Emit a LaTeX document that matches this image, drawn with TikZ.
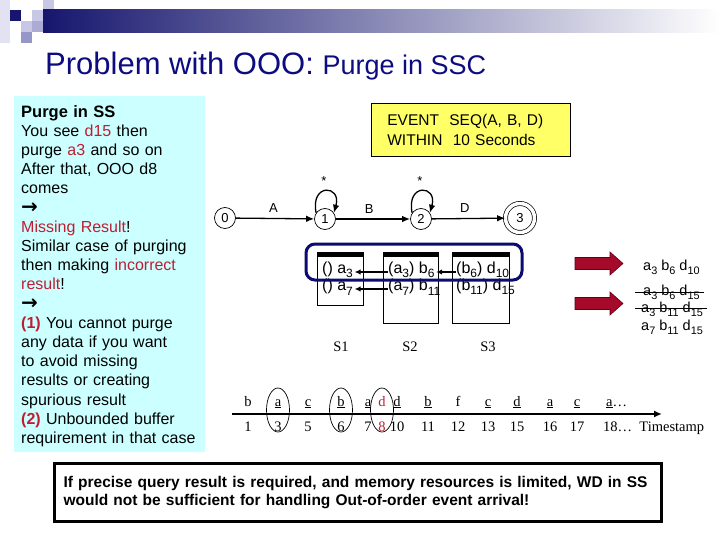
\documentclass[tikz,border=0pt]{standalone}
\usepackage{fontspec}
\setmainfont{Liberation Sans}
\newfontfamily\tms{Liberation Serif}
\newfontfamily\djv{DejaVu Sans}
\usetikzlibrary{arrows.meta,positioning}

\definecolor{titleblue}{RGB}{12,12,128}
\definecolor{hdnavy}{RGB}{22,22,110}
\definecolor{hdpale}{RGB}{226,226,242}
\definecolor{hdlight}{RGB}{200,200,230}
\definecolor{hdmid}{RGB}{150,150,200}
\definecolor{notebg}{RGB}{204,255,255}
\definecolor{notered}{RGB}{190,30,50}
\definecolor{querybg}{RGB}{255,255,102}
\definecolor{winblue}{RGB}{12,12,112}
\definecolor{arrowred}{RGB}{165,10,42}
\definecolor{arrowdark}{RGB}{95,0,20}

\newcommand{\hl}[1]{\textcolor{notered}{#1}}
\newcommand{\lowsub}[1]{\raisebox{-.28em}{\scalebox{0.75}{#1}}}
\newcommand{\thenarrow}{\smash{\djv\bfseries\scalebox{1.25}{→}}}

\tikzset{
  state/.style={circle,draw,line width=0.7pt,minimum size=21pt,inner sep=0pt,font=\fontsize{13}{13}\selectfont},
  accept/.style={state,minimum size=29pt,double,double distance=3.5pt},
  lbl/.style={font=\fontsize{13}{13}\selectfont,inner sep=1pt},
  trans/.style={line width=1.3pt,-{Latex[length=8pt,width=6.5pt]}},
  stackbox/.style={draw,line width=0.7pt,anchor=north west,inner sep=0pt},
  entry/.style={anchor=west,inner sep=0pt,font=\fontsize{16}{16}\selectfont},
  ptr/.style={line width=1.4pt,-{Latex[length=6pt,width=5.5pt]},shorten >=1.5pt},
  tlabel/.style={font=\tms\fontsize{14.5}{14.5}\selectfont,inner sep=0pt,anchor=base},
  res/.style={font=\fontsize{14.5}{14.5}\selectfont,inner sep=0pt,anchor=base west},
}

\begin{document}
\begin{tikzpicture}[x=1pt,y=-1pt]
  \useasboundingbox (0,0) rectangle (720,540);
  \fill[white] (0,0) rectangle (720,540);

  % header bar
  \fill[hdpale] (0,0) rectangle (10,43);
  \fill[hdnavy] (10,10) rectangle (21,21);
  \fill[hdlight] (21,21) rectangle (32,32);
  \fill[hdmid] (21,32) rectangle (32,43);
  \fill[hdlight] (32,10) rectangle (43,21);
  \fill[hdmid!80] (32,21) rectangle (43,32);
  \fill[hdlight] (43,0) rectangle (54,10);
  \shade[left color=hdnavy,right color=white] (43,10) rectangle (720,33);
  \node[anchor=base west,inner sep=0pt,text=titleblue,font=\fontsize{31}{31}\selectfont] (title) at (45,75)
    {Problem with OOO: {\fontsize{27}{27}\selectfont Purge in SSC}};

  % notes
  \fill[notebg] (14,96) rectangle (205,452);
  \node[anchor=north west,inner sep=0pt,text width=184pt,align=left,font=\fontsize{16}{19.2}\selectfont] (notes) at (21,105) {%
    {\fontsize{16.5}{16.5}\selectfont\textbf{Purge in SS}}\\
    You see \hl{d15} then\\
    purge \hl{a3} and so on\\
    After that, OOO d8\\
    comes\\
    \thenarrow\\
    \hl{Missing Result}!\\
    Similar case of purging\\
    then making \hl{incorrect}\\
    \hl{result}!\\
    \thenarrow\\
    \hl{\textbf{(1)}} You cannot purge\\
    any data if you want\\
    to avoid missing\\
    results or creating\\
    spurious result\\
    \hl{\textbf{(2)}} Unbounded buffer\\
    requirement in that case};

  % query
  \node[draw,fill=querybg,line width=0.7pt,anchor=north west,text width=167pt,inner xsep=16pt,minimum height=53pt,align=left,font=\fontsize{15.5}{20}\selectfont] (query) at (371,103)
    {EVENT\ \ SEQ(A, B, D)\\WITHIN\ \ 10 Seconds};

  % automaton
  \node[state] (s0) at (225,218) {0};
  \node[state] (s1) at (325,219) {1};
  \node[state] (s2) at (421,219) {2};
  \node[accept] (s3) at (520,218) {3};
  \draw[trans] (s0) -- node[lbl,above=4pt,pos=0.48] {A} (s1);
  \draw[trans] (s1) -- node[lbl,above=4pt,pos=0.45] {B} (s2);
  \draw[trans] (s2) -- node[lbl,above=4pt,pos=0.45] {D} (s3);
  \draw[trans] (s1.145) .. controls +(-6,-30) and +(8,-28) .. (s1.35);
  \draw[trans] (s2.145) .. controls +(-6,-30) and +(8,-28) .. (s2.35);
  \node[lbl] (star1) at (324,181) {*};
  \node[lbl] (star2) at (420,181) {*};

  % stacks
  \node[stackbox,minimum width=46pt,minimum height=53pt] (st1) at (317,252) {};
  \node[stackbox,minimum width=55pt,minimum height=71pt] (st2) at (383,252) {};
  \node[stackbox,minimum width=57pt,minimum height=71pt] (st3) at (452,252) {};
  \foreach \s in {st1,st2,st3} {
    \fill (\s.north west) rectangle ([yshift=-5pt]\s.north east);
  }
  \node[entry] (e11) at (322,270) {() a\lowsub{3}};
  \node[entry] (e12) at (322,287) {() a\lowsub{7}};
  \node[entry] (e21) at (388,270) {(a\lowsub{3}) b\lowsub{6}};
  \node[entry] (e22) at (388,287) {(a\lowsub{7}) b\lowsub{11}};
  \node[entry] (e31) at (456,270) {(b\lowsub{6}) d\lowsub{10}};
  \node[entry] (e32) at (456,287) {(b\lowsub{11}) d\lowsub{15}};
  \draw[ptr] ([yshift=-2pt]e21.west) -- ([yshift=-2pt]e11.east);
  \draw[ptr] ([yshift=-2pt]e22.west) -- ([yshift=-2pt]e12.east);
  \draw[ptr] ([yshift=-2pt]e31.west) -- ([yshift=-2pt]e21.east);
  \node[tlabel,anchor=center] (lS1) at (341,347) {S1};
  \node[tlabel,anchor=center] (lS2) at (410,347) {S2};
  \node[tlabel,anchor=center] (lS3) at (488,347) {S3};
  \draw[line width=3pt,winblue,rounded corners=9pt] (306,244) rectangle (522,280);

  % results
  \foreach \y in {263.5,303.5} {
    \filldraw[fill=arrowred,draw=arrowdark,line width=0.6pt]
      (575,\y-6) -- (610,\y-6) -- (610,\y-11.5) -- (623,\y) -- (610,\y+11.5) -- (610,\y+6) -- (575,\y+6) -- cycle;
  }
  \node[res] (r1) at (643,270) {a\lowsub{3} b\lowsub{6} d\lowsub{10}};
  \node[res] (r2) at (643,295) {a\lowsub{3} b\lowsub{6} d\lowsub{15}};
  \node[res] (r3) at (641,312) {a\lowsub{3} b\lowsub{11} d\lowsub{15}};
  \node[res] (r4) at (641,330) {a\lowsub{7} b\lowsub{11} d\lowsub{15}};
  \draw[line width=0.8pt] ([shift={(-8,-3)}]r2.base west) -- ([shift={(4,-3)}]r2.base east);
  \draw[line width=0.8pt] ([shift={(-6,-4)}]r3.base west) -- ([shift={(4,-4)}]r3.base east);

  % timeline
  \coordinate (t0) at (232,414);
  \coordinate (t1) at (662,414);
  \draw[line width=1.8pt,-{Latex[length=8pt,width=7pt]}] (t0) -- (t1);
  \foreach \x/\l/\n in {248/b/1,458/f/12} {
    \node[tlabel] (ev\n) at (\x,406) {\l};
    \node[tlabel] (ts\n) at (\x,431) {\n};
  }
  \foreach \x/\l/\n in {278/a/3,308/c/5,341/b/6,368/a/7,397/d/10,428/b/11,488/c/13,517/d/15,550/a/16,577/c/17} {
    \node[tlabel] (ev\n) at (\x,406) {\underline{\l}};
    \node[tlabel] (ts\n) at (\x,431) {\n};
  }
  \node[tlabel,text=notered] (ev8) at (382,406) {d};
  \node[tlabel,text=notered] (ts8) at (382,431) {8};
  \node[tlabel,anchor=base west] (ev18) at (606,406) {\underline{a}\ldots};
  \node[tlabel,anchor=base west] (ts18) at (603,431) {18\ldots\enspace Timestamp};
  \foreach \x in {278,341,382} {
    \draw[line width=0.7pt] (\x,410) ellipse [x radius=11.5,y radius=22];
  }

  % conclusion
  \node[draw,line width=3pt,anchor=north west,text width=589pt,inner xsep=9pt,minimum height=58pt,align=left,font=\bfseries\fontsize{15.5}{18}\selectfont] (concl) at (53,462)
    {If precise query result is required, and memory resources is limited, WD in SS\\would not be sufficient for handling Out-of-order event arrival!};
\end{tikzpicture}
\end{document}
